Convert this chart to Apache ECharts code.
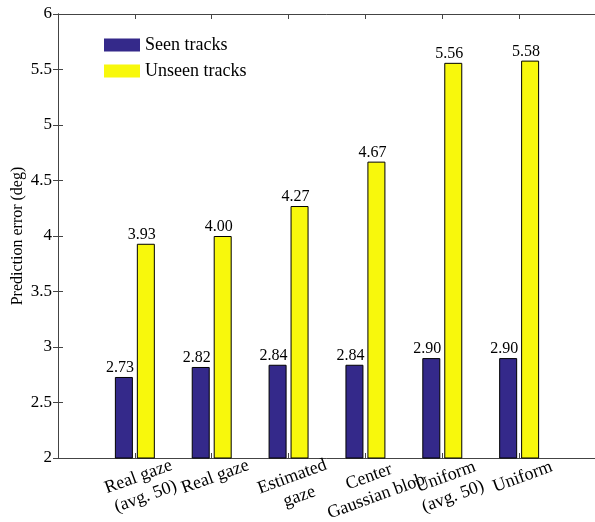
<!DOCTYPE html>
<html>
<head>
<meta charset="utf-8">
<script src="https://cdn.jsdelivr.net/npm/echarts@6/dist/echarts.min.js"></script>
<style>
  html, body { margin: 0; padding: 0; background: #fff; }
  #chart { width: 595px; height: 522px; }
</style>
</head>
<body>
<div id="chart"></div>
<script>
// categories and values
const categories = ['Real gaze\n(avg. 50)', 'Real gaze', 'Estimated\ngaze', 'Center\nGaussian blob', 'Uniform\n(avg. 50)', 'Uniform'];
const seenTracks = [2.73, 2.82, 2.84, 2.84, 2.90, 2.90];
const unseenTracks = [3.93, 4.00, 4.27, 4.67, 5.56, 5.58];
const yTicks = [2, 2.5, 3, 3.5, 4, 4.5, 5, 5.5, 6];

const FONT = '"Liberation Serif", "Times New Roman", serif';
const AXIS_COLOR = '#444';

// x positions 1..n on a 0..n+1 axis, like the original plot
const toPoints = arr => arr.map((v, i) => [i + 1, v]);

const chart = echarts.init(document.getElementById('chart'));

const barLabel = {
  show: true,
  position: 'top',
  distance: 1,
  offset: [-4, 0],
  color: '#000',
  fontFamily: FONT,
  fontSize: 16,
  formatter: p => p.value[1].toFixed(2)
};

const option = {
  backgroundColor: '#fff',
  animation: false,
  grid: {
    left: 58,
    right: -1,
    top: 14,
    bottom: 64,
    containLabel: false,
    outerBoundsMode: 'none'
  },
  legend: {
    left: 104,
    top: 36,
    padding: 0,
    orient: 'vertical',
    itemWidth: 36,
    itemHeight: 13,
    itemGap: 8,
    icon: 'rect',
    textStyle: { fontFamily: FONT, fontSize: 18, lineHeight: 13, color: '#000' },
    itemStyle: { borderWidth: 0 },
    data: ['Seen tracks', 'Unseen tracks']
  },
  xAxis: [
    {
      type: 'value',
      min: 0,
      max: categories.length + 1,
      interval: 1,
      position: 'bottom',
      splitLine: { show: false },
      axisLine: { show: true, lineStyle: { color: AXIS_COLOR, width: 1 } },
      axisTick: { show: true, inside: true, length: 5, lineStyle: { color: AXIS_COLOR } },
      axisLabel: {
        show: true,
        rotate: 20,
        align: 'center',
        verticalAlign: 'top',
        margin: 9,
        lineHeight: 21,
        color: '#000',
        fontFamily: FONT,
        fontSize: 18,
        showMinLabel: true,
        showMaxLabel: true,
        formatter: v => categories[v - 1] || ''
      }
    },
    {
      type: 'value',
      min: 0,
      max: categories.length + 1,
      interval: 1,
      position: 'top',
      splitLine: { show: false },
      axisLine: { show: true, lineStyle: { color: AXIS_COLOR, width: 1 } },
      axisTick: { show: true, inside: true, length: 5, lineStyle: { color: AXIS_COLOR } },
      axisLabel: { show: false }
    }
  ],
  yAxis: [
    {
      type: 'value',
      min: yTicks[0],
      max: yTicks[yTicks.length - 1],
      interval: 0.5,
      position: 'left',
      name: 'Prediction error (deg)',
      nameLocation: 'middle',
      nameGap: 32,
      nameMoveOverlap: false,
      nameTextStyle: { fontFamily: FONT, fontSize: 16, color: '#000' },
      splitLine: { show: false },
      axisLine: { show: true, lineStyle: { color: AXIS_COLOR, width: 1 } },
      axisTick: { show: true, inside: true, length: 5, lineStyle: { color: AXIS_COLOR } },
      axisLabel: { color: '#000', fontFamily: FONT, fontSize: 17, margin: 6 }
    },
    {
      type: 'value',
      min: yTicks[0],
      max: yTicks[yTicks.length - 1],
      interval: 0.5,
      position: 'right',
      splitLine: { show: false },
      axisLine: { show: true, lineStyle: { color: AXIS_COLOR, width: 1 } },
      axisTick: { show: true, inside: true, length: 5, lineStyle: { color: AXIS_COLOR } },
      axisLabel: { show: false }
    }
  ],
  series: [
    {
      name: 'Seen tracks',
      type: 'bar',
      barWidth: 18,
      barGap: '22%',
      itemStyle: { color: '#34298a', borderColor: '#000', borderWidth: 1 },
      label: barLabel,
      data: toPoints(seenTracks)
    },
    {
      name: 'Unseen tracks',
      type: 'bar',
      barWidth: 18,
      barGap: '22%',
      itemStyle: { color: '#f8f80c', borderColor: '#000', borderWidth: 1 },
      label: barLabel,
      data: toPoints(unseenTracks)
    }
  ]
};

chart.setOption(option);
</script>
</body>
</html>
